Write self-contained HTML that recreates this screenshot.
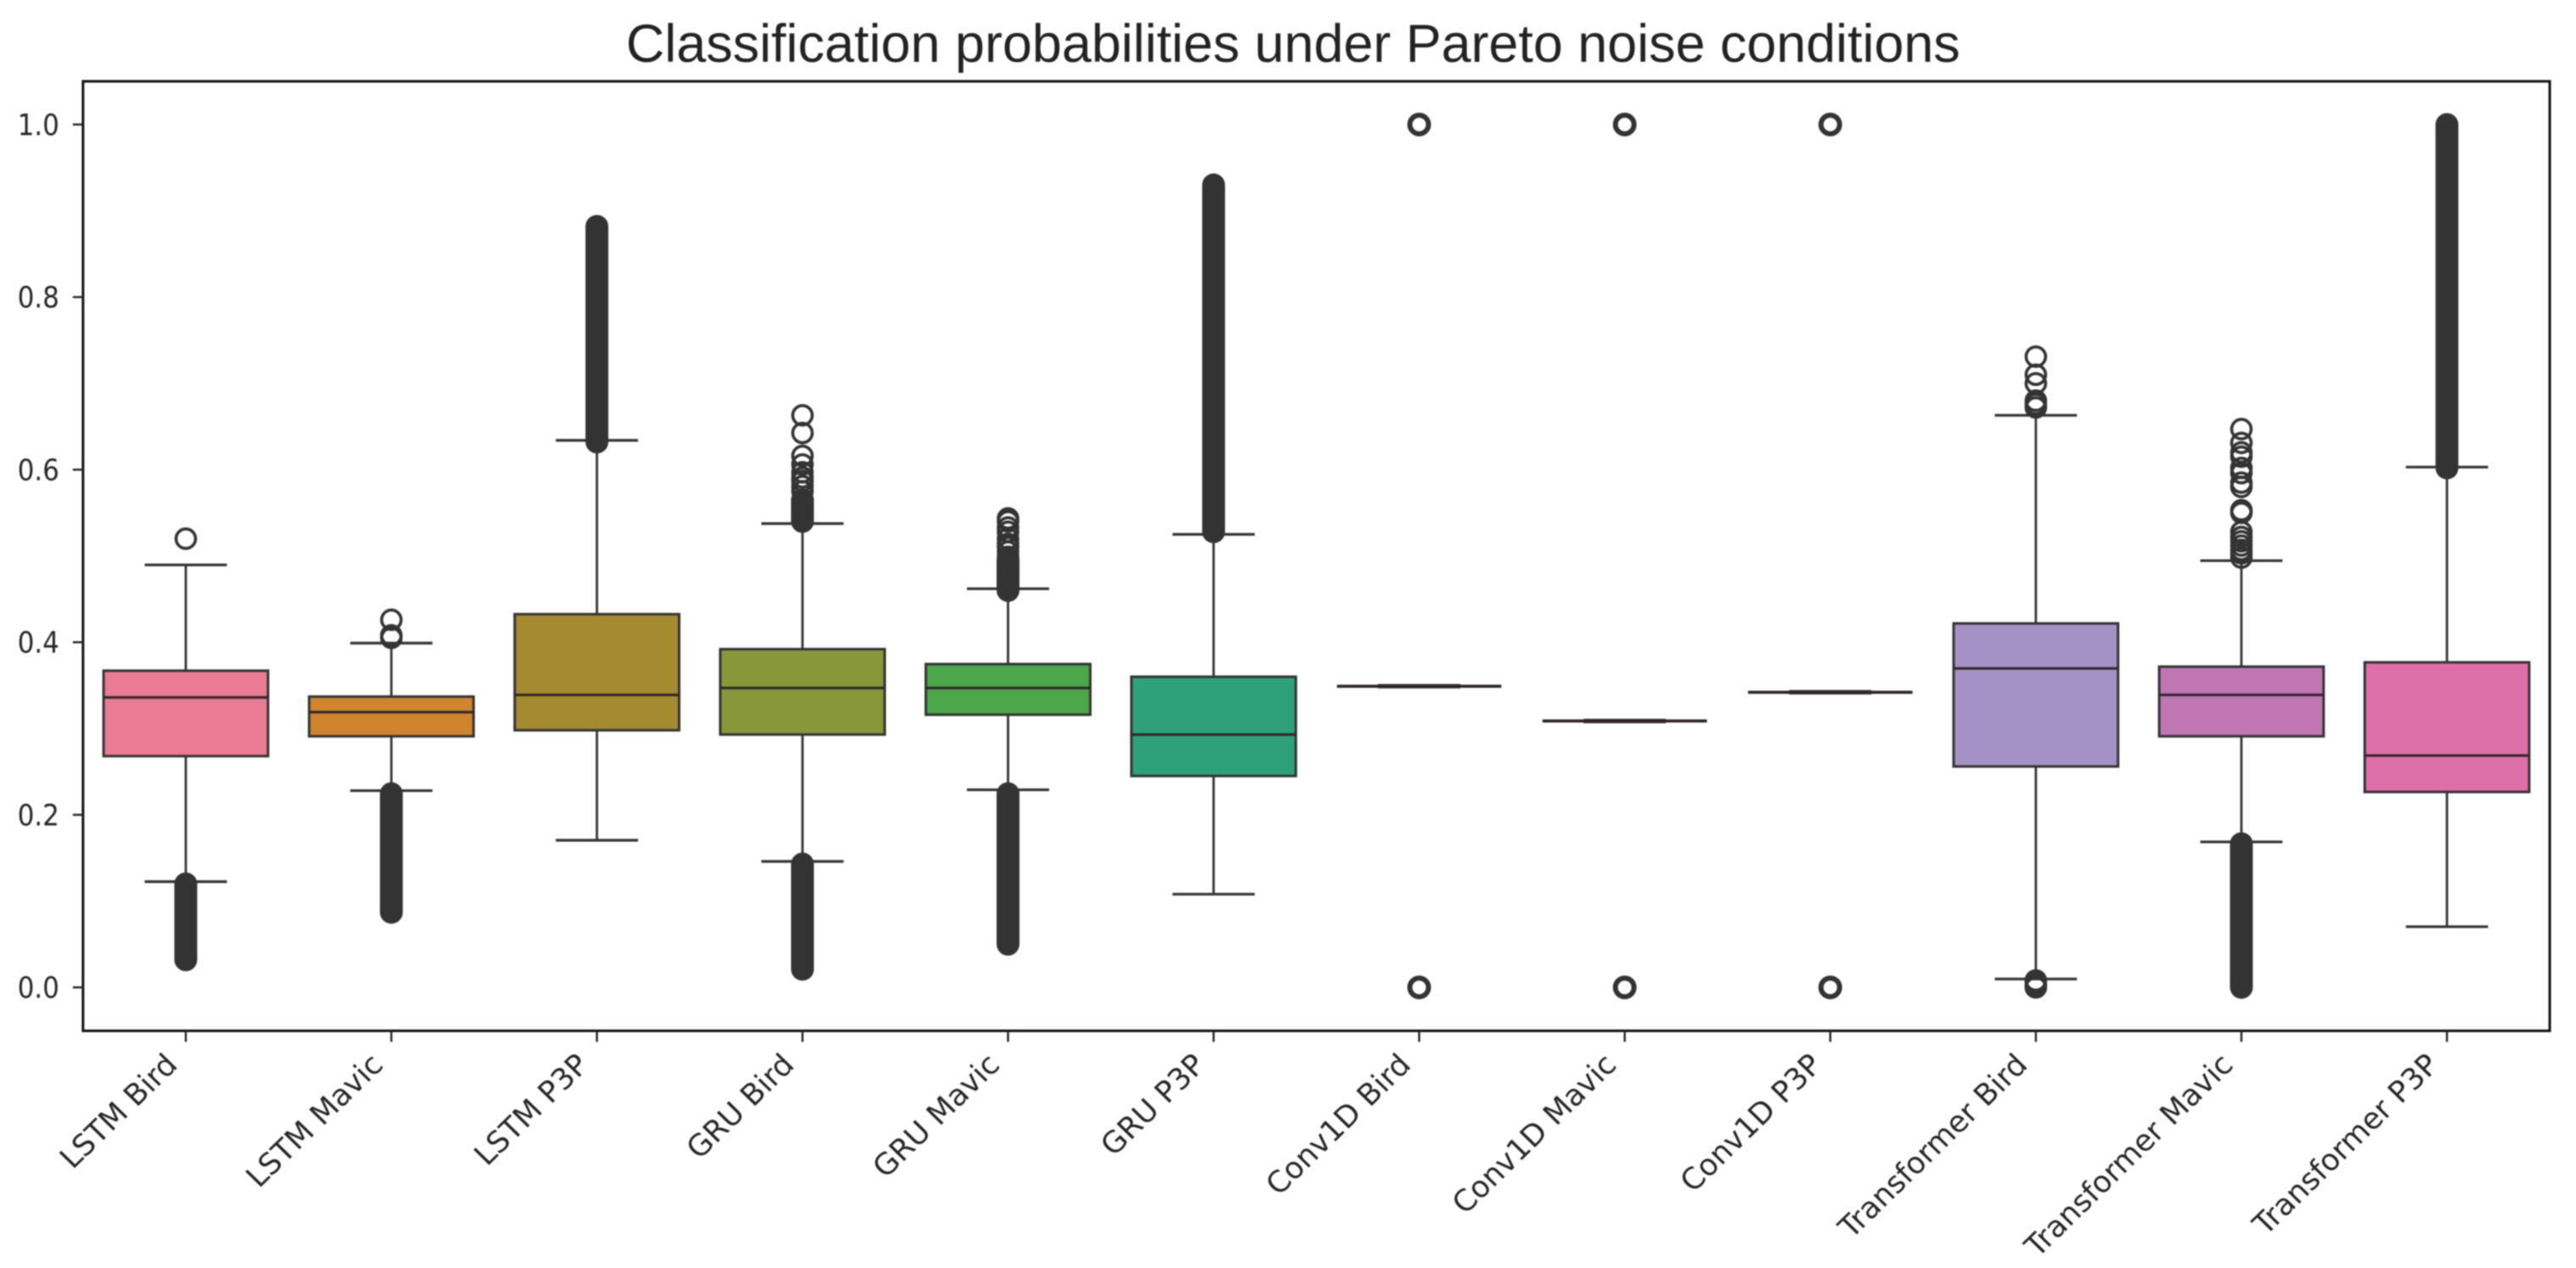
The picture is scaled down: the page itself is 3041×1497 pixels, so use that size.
<!DOCTYPE html>
<html lang="en">
<head>
<meta charset="utf-8">
<title>Classification probabilities under Pareto noise conditions</title>
<style>
  html, body { margin: 0; padding: 0; background: #fff; }
  svg { display: block; filter: blur(0.7px); }
</style>
</head>
<body>
<svg id="chart" xmlns="http://www.w3.org/2000/svg" width="3041" height="1497" viewBox="0 0 3041 1497">
  <rect x="0" y="0" width="3041" height="1497" fill="#ffffff"/>
  <text x="739" y="73" font-family="'Liberation Sans', sans-serif" font-size="63" fill="#222222" textLength="1575" lengthAdjust="spacingAndGlyphs">Classification probabilities under Pareto noise conditions</text>
  <g id="marks"></g>
  <rect x="98" y="96" width="2912" height="1121" fill="none" stroke="#111111" stroke-width="3"/>
  <g id="axes"></g>
</svg>
<script>
const categories = ["LSTM Bird", "LSTM Mavic", "LSTM P3P", "GRU Bird", "GRU Mavic", "GRU P3P", "Conv1D Bird", "Conv1D Mavic", "Conv1D P3P", "Transformer Bird", "Transformer Mavic", "Transformer P3P"];
const q1Values = [0.268, 0.291, 0.298, 0.293, 0.316, 0.245, 0.349, 0.3087, 0.342, 0.256, 0.291, 0.2265];
const medianValues = [0.336, 0.319, 0.339, 0.347, 0.347, 0.293, 0.349, 0.3087, 0.342, 0.3697, 0.339, 0.2687];
const q3Values = [0.367, 0.337, 0.4325, 0.392, 0.3747, 0.36, 0.349, 0.3087, 0.342, 0.4218, 0.3717, 0.3767];
const whiskerLow = [0.1225, 0.228, 0.1705, 0.146, 0.229, 0.108, 0.349, 0.3087, 0.342, 0.0097, 0.1686, 0.0703];
const whiskerHigh = [0.4896, 0.399, 0.634, 0.5375, 0.462, 0.525, 0.349, 0.3087, 0.342, 0.663, 0.4945, 0.603];
const separateFliers = [
  [0.52],
  [0.426, 0.408, 0.405],
  [],
  [0.663, 0.6425, 0.616, 0.606, 0.597, 0.591, 0.587, 0.581, 0.575],
  [0.5435, 0.54, 0.533, 0.528, 0.52, 0.514, 0.51, 0.505, 0.499],
  [],
  [1, 0],
  [1, 0],
  [1, 0],
  [0.731, 0.71, 0.7, 0.68, 0.676, 0.672, 0.008, 0.006, 0.004, 0.002, 0.001, 0],
  [0.647, 0.631, 0.62, 0.615, 0.602, 0.596, 0.585, 0.58, 0.553, 0.55, 0.528, 0.522, 0.517, 0.512, 0.507, 0.503, 0.498],
  []
];
const upperDenseStart = [null, null, 0.632, 0.54, 0.46, 0.528, null, null, null, null, null, 0.602];
const upperDenseEnd = [null, null, 0.882, 0.565, 0.495, 0.93, null, null, null, null, null, 1.0];
const lowerDenseStart = [0.032, 0.087, null, 0.021, 0.05, null, null, null, null, null, 0, null];
const lowerDenseEnd = [0.12, 0.2245, null, 0.143, 0.2245, null, null, null, null, null, 0.1665, null];
const yTickValues = [0, 0.2, 0.4, 0.6, 0.8, 1];
const yTickLabels = ["0.0", "0.2", "0.4", "0.6", "0.8", "1.0"];
const boxColors = ["#e97c92", "#d1842e", "#a68a2f", "#88973a", "#4ca64a", "#2fa17a", "#32a59a", "#36a3b0", "#4c9ed0", "#a491c6", "#bf76b3", "#df6fa8"];

const SVGNS = "http://www.w3.org/2000/svg";
const plotLeft = 98;
const plotWidth = 2912;
const plotBottom = 1217;
const zeroY = 1165.7;
const unitHeight = 1018.7;
const edgeColor = "#333333";
const flierColor = "#333333";

function xScale(i) {
  return plotLeft + (i + 0.5) * plotWidth / categories.length;
}
function yScale(v) {
  return zeroY - v * unitHeight;
}
function make(tag, attrs, parent) {
  const node = document.createElementNS(SVGNS, tag);
  for (const key in attrs) node.setAttribute(key, attrs[key]);
  parent.appendChild(node);
  return node;
}

const marks = document.getElementById("marks");
const axes = document.getElementById("axes");
const bandWidth = plotWidth / categories.length;
const boxWidth = bandWidth * 0.8;
const capWidth = bandWidth * 0.4;

categories.forEach(function (name, i) {
  const cx = xScale(i);
  const heavy = name.indexOf("Conv1D") === 0;
  const group = make("g", {}, marks);
  
  

  const whiskers = [[q3Values[i], whiskerHigh[i]], [q1Values[i], whiskerLow[i]]];
  whiskers.forEach(function (w) {
    const stem = make("line", { x1: cx, x2: cx, y1: yScale(w[0]), y2: yScale(w[1]), stroke: edgeColor, "stroke-width": 2.8 }, group);
    
    
    const cap = make("line", { x1: cx - capWidth / 2, x2: cx + capWidth / 2, y1: yScale(w[1]), y2: yScale(w[1]), stroke: edgeColor, "stroke-width": heavy ? 5 : 3.2 }, group);
    
    
  });

  const box = make("rect", {
    x: cx - boxWidth / 2,
    y: yScale(q3Values[i]),
    width: boxWidth,
    height: yScale(q1Values[i]) - yScale(q3Values[i]),
    fill: boxColors[i],
    stroke: edgeColor,
    "stroke-width": heavy ? 3.6 : 3
  }, group);
  
  

  const median = make("line", { x1: cx - boxWidth / 2, x2: cx + boxWidth / 2, y1: yScale(medianValues[i]), y2: yScale(medianValues[i]), stroke: "#2e252a", "stroke-width": heavy ? 3.6 : 3 }, group);
  
  

  separateFliers[i].forEach(function (v) {
    const dot = make("circle", { cx: cx, cy: yScale(v), r: heavy ? 11 : 11.5, fill: "none", stroke: flierColor, "stroke-width": heavy ? 6 : 3.6 }, group);
    
    
  });

  const runs = [[upperDenseStart[i], upperDenseEnd[i]], [lowerDenseStart[i], lowerDenseEnd[i]]];
  runs.forEach(function (run) {
    if (run[0] === null) return;
    const band = make("line", { x1: cx, x2: cx, y1: yScale(run[0]), y2: yScale(run[1]), stroke: flierColor, "stroke-width": 27, "stroke-linecap": "round" }, group);
    
    
  });

  const tick = make("line", { x1: cx, x2: cx, y1: plotBottom, y2: plotBottom + 13, stroke: "#222222", "stroke-width": 2.4 }, axes);
  
  

  const labelX = cx - 8;
  const labelY = 1259;
  const label = make("text", {
    transform: "translate(" + labelX + " " + labelY + ") scale(1.19 1.16) rotate(-45)",
    "text-anchor": "end",
    "font-family": "'DejaVu Sans', sans-serif",
    "font-size": 30,
    fill: "#262626"
  }, axes);
  
  
  label.textContent = name;
});

yTickValues.forEach(function (v, i) {
  const y = yScale(v);
  const tick = make("line", { x1: plotLeft - 12, x2: plotLeft, y1: y, y2: y, stroke: "#222222", "stroke-width": 2.4 }, axes);
  
  
  const label = make("text", {
    transform: "translate(70 " + (y + 12.5) + ") scale(1 1.12)",
    "text-anchor": "end",
    "font-family": "'DejaVu Sans', sans-serif",
    "font-size": 31,
    fill: "#262626"
  }, axes);
  
  
  label.textContent = yTickLabels[i];
});
</script>
</body>
</html>
